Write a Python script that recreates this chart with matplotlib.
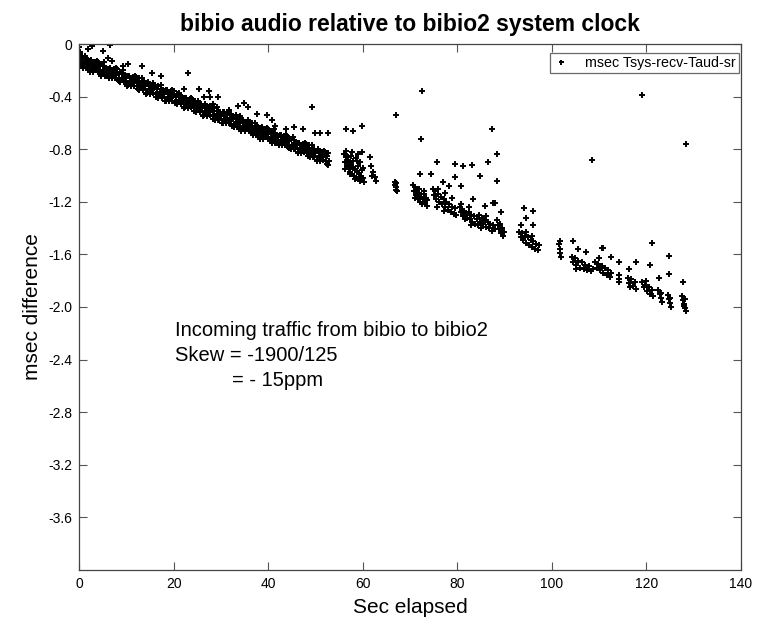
import matplotlib
matplotlib.use('Agg')
import matplotlib.pyplot as plt
import numpy as np

plt.rcParams['font.family'] = ['Liberation Sans', 'DejaVu Sans']

# dense band, eight readings per second (sample offsets within the second)
sample_frac = [0.0, 0.25, 0.5, 0.75]
sample_frac2 = [0.125, 0.375, 0.625, 0.875]
band_sec = list(range(0, 53))
band_ms = [
    [-0.08, -0.15, -0.12, -0.18], [-0.15, -0.09, -0.18, -0.12], [-0.15, -0.21, -0.13, -0.17], [-0.21, -0.15, -0.18, -0.13],
    [-0.14, -0.21, -0.17, -0.24], [-0.21, -0.14, -0.24, -0.18], [-0.21, -0.26, -0.18, -0.23], [-0.26, -0.20, -0.24, -0.18],
    [-0.19, -0.27, -0.23, -0.29], [-0.27, -0.20, -0.29, -0.24], [-0.26, -0.32, -0.24, -0.28], [-0.32, -0.26, -0.30, -0.24],
    [-0.25, -0.32, -0.29, -0.35], [-0.32, -0.26, -0.35, -0.29], [-0.32, -0.38, -0.30, -0.34], [-0.38, -0.32, -0.35, -0.30],
    [-0.31, -0.38, -0.34, -0.41], [-0.38, -0.31, -0.41, -0.35], [-0.38, -0.43, -0.35, -0.40], [-0.43, -0.37, -0.41, -0.35],
    [-0.36, -0.44, -0.40, -0.46], [-0.44, -0.37, -0.46, -0.41], [-0.43, -0.49, -0.41, -0.45], [-0.49, -0.43, -0.47, -0.41],
    [-0.42, -0.49, -0.46, -0.52], [-0.49, -0.43, -0.52, -0.46], [-0.49, -0.55, -0.47, -0.51], [-0.55, -0.49, -0.52, -0.47],
    [-0.48, -0.55, -0.51, -0.58], [-0.55, -0.48, -0.58, -0.52], [-0.55, -0.60, -0.52, -0.57], [-0.60, -0.54, -0.58, -0.52],
    [-0.53, -0.61, -0.57, -0.63], [-0.61, -0.54, -0.63, -0.58], [-0.60, -0.66, -0.58, -0.62], [-0.66, -0.60, -0.64, -0.58],
    [-0.59, -0.66, -0.63, -0.69], [-0.66, -0.60, -0.69, -0.63], [-0.66, -0.72, -0.64, -0.68], [-0.72, -0.66, -0.69, -0.64],
    [-0.65, -0.72, -0.68, -0.75], [-0.72, -0.65, -0.75, -0.69], [-0.71, -0.77, -0.69, -0.73], [-0.77, -0.71, -0.75, -0.69],
    [-0.70, -0.78, -0.74, -0.80], [-0.78, -0.71, -0.80, -0.75], [-0.77, -0.83, -0.75, -0.79], [-0.83, -0.77, -0.81, -0.75],
    [-0.76, -0.83, -0.80, -0.86], [-0.83, -0.77, -0.86, -0.80], [-0.83, -0.89, -0.81, -0.85], [-0.89, -0.83, -0.86, -0.81],
    [-0.82, -0.89, -0.85, -0.92],
]
band_ms2 = [
    [-0.10, -0.17, -0.09, -0.15], [-0.15, -0.11, -0.17, -0.14], [-0.13, -0.20, -0.12, -0.18], [-0.17, -0.14, -0.20, -0.16],
    [-0.16, -0.23, -0.15, -0.21], [-0.20, -0.17, -0.23, -0.19], [-0.19, -0.26, -0.18, -0.24], [-0.23, -0.19, -0.26, -0.22],
    [-0.22, -0.28, -0.21, -0.27], [-0.26, -0.22, -0.29, -0.25], [-0.24, -0.31, -0.24, -0.29], [-0.29, -0.25, -0.32, -0.28],
    [-0.27, -0.34, -0.26, -0.32], [-0.32, -0.28, -0.34, -0.31], [-0.30, -0.37, -0.29, -0.35], [-0.34, -0.31, -0.37, -0.33],
    [-0.33, -0.40, -0.32, -0.38], [-0.37, -0.34, -0.40, -0.36], [-0.36, -0.43, -0.35, -0.41], [-0.40, -0.36, -0.43, -0.39],
    [-0.39, -0.45, -0.38, -0.44], [-0.43, -0.39, -0.46, -0.42], [-0.41, -0.48, -0.41, -0.46], [-0.46, -0.42, -0.48, -0.45],
    [-0.44, -0.51, -0.43, -0.49], [-0.49, -0.45, -0.51, -0.48], [-0.47, -0.54, -0.46, -0.52], [-0.51, -0.48, -0.54, -0.50],
    [-0.50, -0.57, -0.49, -0.55], [-0.54, -0.51, -0.57, -0.53], [-0.53, -0.60, -0.52, -0.58], [-0.57, -0.53, -0.60, -0.56],
    [-0.56, -0.62, -0.55, -0.61], [-0.60, -0.56, -0.63, -0.59], [-0.58, -0.65, -0.58, -0.63], [-0.63, -0.59, -0.65, -0.62],
    [-0.61, -0.68, -0.60, -0.66], [-0.66, -0.62, -0.68, -0.65], [-0.64, -0.71, -0.63, -0.69], [-0.68, -0.65, -0.71, -0.67],
    [-0.67, -0.74, -0.66, -0.72], [-0.71, -0.68, -0.74, -0.70], [-0.70, -0.76, -0.69, -0.75], [-0.74, -0.70, -0.77, -0.73],
    [-0.73, -0.79, -0.72, -0.78], [-0.77, -0.73, -0.80, -0.76], [-0.75, -0.82, -0.75, -0.80], [-0.80, -0.76, -0.82, -0.79],
    [-0.78, -0.85, -0.77, -0.83], [-0.83, -0.79, -0.85, -0.82], [-0.81, -0.88, -0.80, -0.86], [-0.85, -0.82, -0.88, -0.84],
    [-0.84, -0.91, -0.83, -0.89],
]

# later bursts after the gaps
burst_t = [56.0, 56.2, 56.4, 56.6, 56.8, 57.0, 57.2, 57.4, 57.6, 57.8, 58.0, 58.2, 58.4, 58.6, 58.8, 59.0,
           59.2, 59.4, 59.6, 59.8, 60.0, 56.5, 57.5, 58.5, 59.5, 60.2, 58.9, 56.2, 57.7, 58.8, 59.8,
           56.3, 56.9, 57.3, 57.9, 58.3, 59.1, 59.7, 60.1,
           61.6, 61.8, 62.0, 62.2, 62.5, 62.8,
           66.8, 66.9, 67.0, 67.0, 67.1, 67.2,
           70.7, 70.9, 71.1, 71.3, 71.5, 71.7, 71.9, 72.1, 72.3, 72.5, 72.7, 72.9, 73.1, 73.3, 73.5, 73.7,
           71.0, 72.0, 73.0,
           74.8, 75.0, 75.3, 75.6, 75.9, 76.2, 76.5, 76.8, 77.1, 77.4, 77.7, 78.0, 78.3, 78.6, 78.9, 79.2,
           79.5, 79.8, 76.0, 77.5, 78.8, 75.8, 77.2,
           80.6, 80.8, 81.0, 81.2, 81.4, 81.6, 81.8, 82.0,
           82.4, 82.6, 82.9, 83.2, 83.5, 83.8, 84.1, 84.3, 83.0,
           84.6, 84.9, 85.2, 85.5, 85.8, 86.1, 86.4, 86.7, 87.0, 87.3, 87.6, 87.9, 85.0, 86.0,
           88.5, 88.7, 88.9, 89.1, 89.3, 89.5, 89.7, 89.9,
           93.1, 93.4, 93.7, 94.0, 94.3, 94.6, 94.9, 95.2, 95.5, 95.8, 96.1, 96.4, 96.7, 97.0, 97.2, 94.5, 95.9,
           101.6, 101.7, 101.8, 101.9,
           104.2, 104.5, 104.9, 105.2, 105.6, 106.0, 106.3, 106.7, 107.0, 107.4, 107.8, 108.2, 108.6, 105.0,
           109.2, 109.5, 109.8, 110.2, 110.5, 110.9, 111.2, 111.6, 111.9, 112.3, 112.6, 110.0,
           114.1, 114.2, 114.3,
           116.1, 116.4, 116.8, 117.1, 117.5, 117.8, 116.6,
           119.1, 119.4, 119.8, 120.1, 120.5, 120.8, 121.2, 121.4, 120.0,
           122.5, 122.8, 123.0, 123.3, 123.1,
           124.5, 124.7, 124.9, 125.1, 125.0,
           127.6, 127.8, 128.0, 128.2, 128.4, 127.9, 128.1]
burst_ms = [-0.84, -0.90, -0.86, -0.93, -0.88, -0.95, -0.90, -0.97, -0.92, -0.99, -0.94, -1.00, -0.95, -1.02, -0.97, -1.03,
            -0.98, -1.04, -1.00, -0.96, -1.02, -0.81, -0.85, -0.87, -0.90, -1.05, -0.84, -0.84, -0.82, -0.89, -0.82,
            -0.95, -0.86, -0.99, -0.89, -1.03, -0.93, -1.01, -0.94,
            -0.86, -0.93, -1.00, -0.97, -1.01, -1.04,
            -1.05, -1.07, -1.09, -1.11, -1.06, -1.12,
            -1.07, -1.12, -1.09, -1.15, -1.11, -1.18, -1.13, -1.20, -1.16, -1.22, -1.18, -1.14, -1.21, -1.17, -1.23, -1.19,
            -1.17, -1.10, -1.12,
            -1.10, -1.15, -1.12, -1.18, -1.14, -1.20, -1.16, -1.22, -1.18, -1.24, -1.20, -1.26, -1.22, -1.28, -1.24, -1.29,
            -1.25, -1.30, -1.10, -1.13, -1.17, -1.24, -1.27,
            -1.24, -1.28, -1.26, -1.31, -1.27, -1.33, -1.29, -1.32,
            -1.28, -1.33, -1.30, -1.35, -1.31, -1.37, -1.33, -1.38, -1.38,
            -1.30, -1.35, -1.32, -1.37, -1.34, -1.39, -1.35, -1.40, -1.37, -1.42, -1.38, -1.41, -1.40, -1.31,
            -1.34, -1.38, -1.41, -1.37, -1.44, -1.40, -1.46, -1.43,
            -1.43, -1.47, -1.44, -1.49, -1.46, -1.51, -1.47, -1.53, -1.49, -1.54, -1.50, -1.56, -1.52, -1.57, -1.53, -1.43, -1.46,
            -1.52, -1.56, -1.59, -1.62,
            -1.62, -1.66, -1.63, -1.68, -1.65, -1.70, -1.66, -1.71, -1.68, -1.72, -1.69, -1.73, -1.71, -1.71,
            -1.66, -1.70, -1.67, -1.72, -1.69, -1.74, -1.70, -1.76, -1.72, -1.77, -1.74, -1.63,
            -1.76, -1.79, -1.81,
            -1.78, -1.82, -1.79, -1.84, -1.81, -1.86, -1.85,
            -1.81, -1.85, -1.83, -1.88, -1.85, -1.90, -1.87, -1.92, -1.80,
            -1.87, -1.90, -1.93, -1.96, -1.89,
            -1.91, -1.94, -1.97, -2.00, -1.93,
            -1.92, -1.95, -1.98, -2.01, -2.03, -1.99, -1.94]

# stray readings above the main trend
stray_t = [0.1, 0.3, 1.9, 2.7, 6.5, 5.1, 6.1, 7.0, 9.3, 10.4, 13.3, 15.4, 17.3, 23.0, 25.4, 22.2, 26.4, 27.5,
           27.7, 29.4, 28.3, 33.6, 34.9, 35.7, 37.6, 39.8, 40.8, 41.4, 43.8, 45.5, 34.0, 31.7, 49.3, 47.4,
           49.9, 51.0, 52.7, 56.5, 58.0, 59.8, 67.0, 72.5, 72.3, 72.1, 74.5, 75.7, 79.5, 79.5, 77.0, 78.2,
           87.3, 88.4, 86.5, 83.1, 81.2, 84.8, 88.4, 80.8, 89.2, 88.0, 87.6, 85.9, 83.3, 82.5, 80.8,
           96.0, 94.1, 94.5, 96.0, 93.5, 101.7, 104.5, 105.5, 107.2, 108.5, 110.6, 110.9, 112.5, 114.2,
           116.3, 117.8, 119.0, 120.7, 121.2, 122.6, 124.8, 124.8, 127.7, 128.4]
stray_ms = [-0.02, -0.06, -0.04, -0.015, -0.01, -0.05, -0.11, -0.13, -0.17, -0.15, -0.17, -0.22, -0.24, -0.22, -0.34, -0.34, -0.40, -0.36,
            -0.40, -0.40, -0.46, -0.47, -0.45, -0.48, -0.53, -0.54, -0.58, -0.62, -0.65, -0.63, -0.55, -0.50, -0.48, -0.65,
            -0.68, -0.68, -0.68, -0.65, -0.66, -0.62, -0.54, -0.36, -0.72, -0.99, -0.99, -0.90, -0.91, -1.01, -1.05, -1.08,
            -0.65, -0.84, -0.90, -0.92, -0.93, -1.00, -1.04, -1.08, -1.28, -1.21, -1.21, -1.23, -1.18, -1.24, -1.22,
            -1.27, -1.25, -1.32, -1.38, -1.38, -1.50, -1.50, -1.56, -1.58, -0.88, -1.55, -1.55, -1.62, -1.66,
            -1.71, -1.66, -0.39, -1.68, -1.51, -1.78, -1.61, -1.75, -1.81, -0.76]

t = ([s + f for s in band_sec for f in sample_frac] + [s + f for s in band_sec for f in sample_frac2]
     + burst_t + stray_t)
ms = ([v for row in band_ms for v in row] + [v for row in band_ms2 for v in row]
      + burst_ms + stray_ms)

fig = plt.figure(figsize=(7.59, 6.28), dpi=100)
ax = fig.add_axes([79/759, 1 - 570/628, (741-79)/759, (570-44)/628])

ax.plot(t, ms, linestyle='none', marker='+', markersize=4.5, markeredgewidth=1.4,
        color='black', label='msec Tsys-recv-Taud-sr')

ax.set_xlim(0, 140)
ax.set_ylim(-4.0, 0)
ax.set_xticks(np.arange(0, 141, 20))
yt = [0, -0.4, -0.8, -1.2, -1.6, -2.0, -2.4, -2.8, -3.2, -3.6]
ax.set_yticks(yt)
ax.set_yticklabels(['0'] + ['%.1f' % v for v in yt[1:]])
ax.tick_params(axis='both', direction='in', length=6, width=0.8, top=True, right=True,
               labelsize=10, color='#555555')
ax.tick_params(axis='x', pad=5)
ax.tick_params(axis='y', pad=5)
for s in ax.spines.values():
    s.set_color('#444444')
    s.set_linewidth(0.9)

ax.set_title('bibio audio relative to bibio2 system clock', fontsize=16.5, fontweight='bold', pad=9)
ax.set_xlabel('Sec elapsed', fontsize=15, labelpad=5)
ax.set_ylabel('msec difference', fontsize=15, labelpad=4)

ax.text(20.4, -2.18, 'Incoming traffic from bibio to bibio2', fontsize=14.5, va='center')
ax.text(20.4, -2.37, 'Skew = -1900/125', fontsize=14.5, va='center')
ax.text(32.3, -2.56, '= - 15ppm', fontsize=14.5, va='center')

leg = ax.legend(loc='upper right', bbox_to_anchor=(0.997, 0.983), fontsize=10.3, frameon=True,
                fancybox=False, borderpad=0.2, handletextpad=1.1, markerscale=0.8, handlelength=1.2,
                borderaxespad=0.0)
leg.get_frame().set_edgecolor('#444444')
leg.get_frame().set_linewidth(0.9)

plt.savefig('out.png', dpi=100)
plt.close()
print('Saved.')
